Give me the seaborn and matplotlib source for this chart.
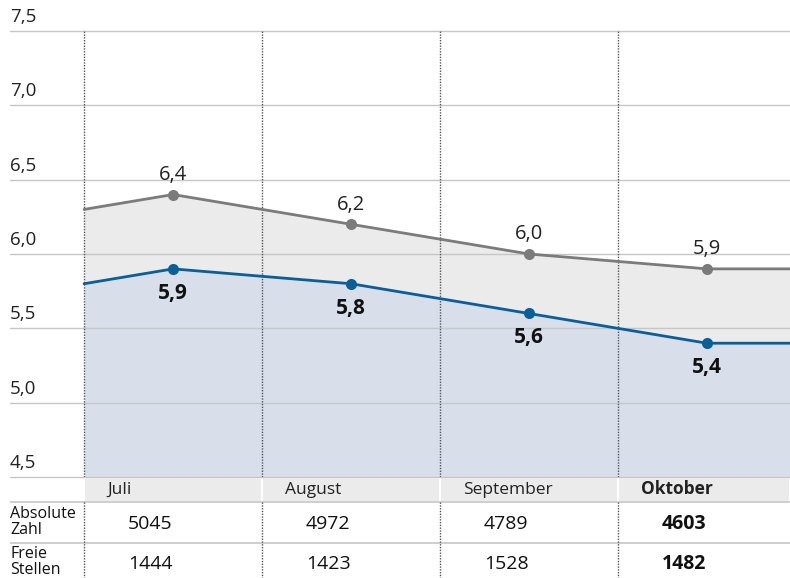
import numpy as np
import pandas as pd
import matplotlib
matplotlib.use("Agg")
import matplotlib.pyplot as plt
import seaborn as sns

# Daten
monate = ["Juli", "August", "September", "Oktober"]
quote_gesamt = [6.4, 6.2, 6.0, 5.9]
quote_frauen = [5.9, 5.8, 5.6, 5.4]
start_gesamt, start_frauen = 6.3, 5.8   # Wert am linken Rand (Juni)
absolute_zahl = [5045, 4972, 4789, 4603]
freie_stellen = [1444, 1423, 1528, 1482]
y_ticks = [4.5, 5.0, 5.5, 6.0, 6.5, 7.0, 7.5]

df = pd.DataFrame({"x": np.arange(len(monate)), "gesamt": quote_gesamt, "frauen": quote_frauen})

sns.set_theme(style="white")
plt.rcParams["font.family"] = ["Open Sans", "DejaVu Sans"]

GRAU = "#7b7b7b"
GRAU_FILL = "#ebebeb"
BLAU = "#0b5f99"
BLAU_FILL = "#d8dfeb"
GRID = "#c6c6c6"

W, H = 790, 578
fig = plt.figure(figsize=(W / 100, H / 100), dpi=100)

unit = (707 - 174) / 3
x0 = -0.5 - 74 / unit
x1 = 3 + 83 / unit

ax = fig.add_axes([10 / W, (H - 477) / H, 780 / W, (477 - 31) / H])
ax.set_xlim(x0, x1)
ax.set_ylim(4.5, 7.5)
for s in ax.spines.values():
    s.set_visible(False)

# Gitterlinien und Beschriftung
for v in y_ticks:
    ax.axhline(v, color=GRID, lw=1, zorder=1, clip_on=False)
    ax.annotate(f"{v:.1f}".replace(".", ","), xy=(0, v), xycoords=("axes fraction", "data"),
                xytext=(0, 3.5), textcoords="offset points", ha="left", va="bottom",
                fontsize=13.5, color="#222222", annotation_clip=False)

# Flächen
xs = np.concatenate([[-0.5], df["x"], [x1]])
g = np.concatenate([[start_gesamt], df["gesamt"], [quote_gesamt[-1]]])
b = np.concatenate([[start_frauen], df["frauen"], [quote_frauen[-1]]])
ax.fill_between(xs, b, g, color=GRAU_FILL, lw=0, zorder=0)
ax.fill_between(xs, 4.5, b, color=BLAU_FILL, lw=0, zorder=0)
ax.plot(xs, g, color=GRAU, lw=2, zorder=3)
ax.plot(xs, b, color=BLAU, lw=2, zorder=3)
sns.lineplot(data=df, x="x", y="gesamt", ax=ax, color=GRAU, lw=0, marker="o",
             markersize=8, markeredgewidth=0, zorder=4)
sns.lineplot(data=df, x="x", y="frauen", ax=ax, color=BLAU, lw=0, marker="o",
             markersize=8, markeredgewidth=0, zorder=4)
ax.set_xlabel("")
ax.set_ylabel("")
ax.set_xticks([])
ax.set_yticks([])

for i, (vg, vb) in enumerate(zip(quote_gesamt, quote_frauen)):
    ax.annotate(f"{vg:.1f}".replace(".", ","), xy=(i, vg), xytext=(0, 7), textcoords="offset points",
                ha="center", va="bottom", fontsize=14.5, color="#222222")
    ax.annotate(f"{vb:.1f}".replace(".", ","), xy=(i, vb), xytext=(0, -10), textcoords="offset points",
                ha="center", va="top", fontsize=15, fontweight="bold", color="#111111")

# Trennlinien
for d in [-0.5, 0.5, 1.5, 2.5]:
    ax.axvline(d, color="#555555", lw=1, ls=(0, (1, 1)), zorder=2)

# Tabelle
tx = fig.add_axes([10 / W, 0, 780 / W, (H - 477) / H])
tx.set_xlim(x0, x1)
tx.set_ylim(101, 0)
tx.axis("off")

cells = [-0.5, 0.5, 1.5, 2.5, x1]
for i in range(len(monate)):
    tx.add_patch(plt.Rectangle((cells[i] + 1 / unit, 1), cells[i + 1] - cells[i] - 2 / unit, 23,
                               color=GRAU_FILL, lw=0, zorder=0))
for yl in [25, 66]:
    tx.axhline(yl, color=GRID, lw=1.2)
for d in [-0.5, 0.5, 1.5, 2.5]:
    tx.plot([d, d], [25, 101], color="#555555", lw=1, ls=(0, (1, 1)))

for i, m in enumerate(monate):
    fw = "bold" if i == len(monate) - 1 else "normal"
    tx.text(cells[i] + 23 / unit, 12.5, m, ha="left", va="center", fontsize=12.5,
            fontweight=fw, color="#222222")
    tx.text(cells[i] + 44 / unit, 47, str(absolute_zahl[i]), ha="left", va="center",
            fontsize=14, fontweight=fw, color="#111111")
    tx.text(cells[i] + 44 / unit, 87, str(freie_stellen[i]), ha="left", va="center",
            fontsize=14, fontweight=fw, color="#111111")

tx.text(x0, 45, "Absolute\nZahl", ha="left", va="center", fontsize=11.5, linespacing=0.95, color="#111111")
tx.text(x0, 85, "Freie\nStellen", ha="left", va="center", fontsize=11.5, linespacing=0.95, color="#111111")

fig.savefig("out.png", dpi=100)
